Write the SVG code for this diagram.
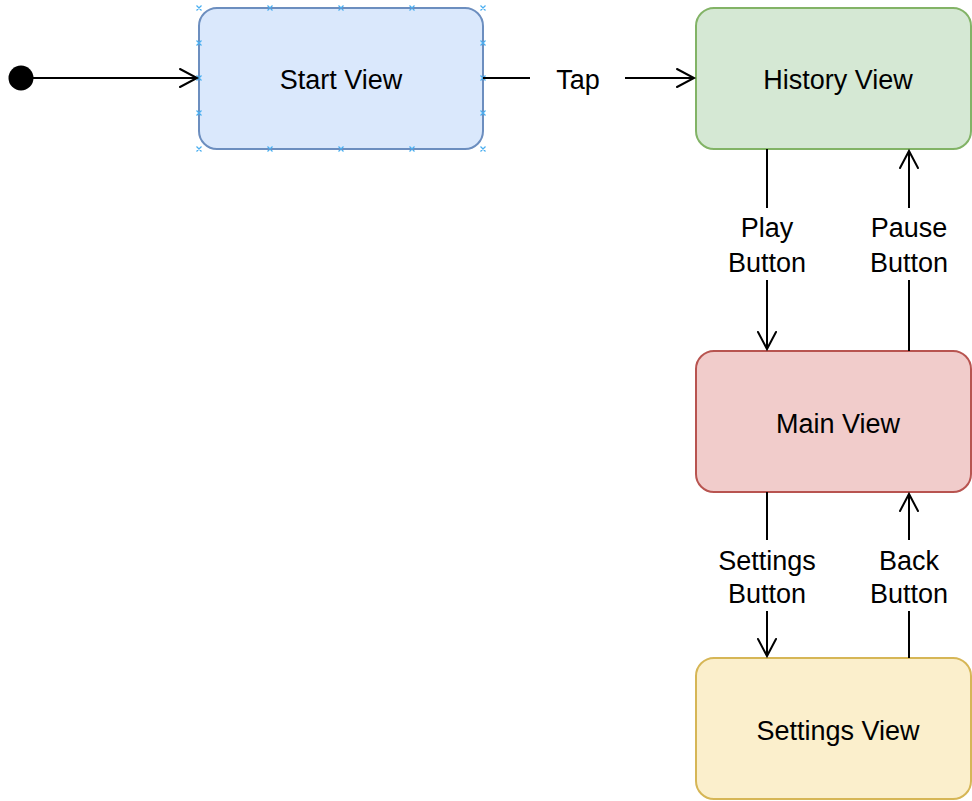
<svg xmlns="http://www.w3.org/2000/svg" width="972" height="801" viewBox="0 0 972 801">
<style>
.node{stroke-width:2}
.lbl{font-family:"Liberation Sans",Arial,sans-serif;font-size:27px;fill:#000;text-anchor:middle}
.edge{fill:none;stroke:#000;stroke-width:2}
.hd{fill:none;stroke:#000;stroke-width:2;stroke-linecap:round}
.mk{fill:none;stroke:#4aaef0;stroke-width:1.2}
</style>
<rect width="972" height="801" fill="#fff"/>
<g id="initial">
<circle cx="21" cy="78" r="12.5" fill="#000"/>
</g>
<g id="start-view">
<rect class="node" x="199" y="8" width="284" height="141" rx="18" fill="#dae8fc" stroke="#6c8ebf"/>
<text class="lbl" x="341" y="89">Start View</text>
<g class="mk">
<path d="M196.5,5.5l5,5M201.5,5.5l-5,5M267.5,5.5l5,5M272.5,5.5l-5,5M338.5,5.5l5,5M343.5,5.5l-5,5M409.5,5.5l5,5M414.5,5.5l-5,5M480.5,5.5l5,5M485.5,5.5l-5,5"/>
<path d="M196.5,146.5l5,5M201.5,146.5l-5,5M267.5,146.5l5,5M272.5,146.5l-5,5M338.5,146.5l5,5M343.5,146.5l-5,5M409.5,146.5l5,5M414.5,146.5l-5,5M480.5,146.5l5,5M485.5,146.5l-5,5"/>
<path d="M196.5,40.5l5,5M201.5,40.5l-5,5M196.5,75.5l5,5M201.5,75.5l-5,5M196.5,110.5l5,5M201.5,110.5l-5,5"/>
<path d="M480.5,40.5l5,5M485.5,40.5l-5,5M480.5,75.5l5,5M485.5,75.5l-5,5M480.5,110.5l5,5M485.5,110.5l-5,5"/>
</g>
</g>
<g id="history-view">
<rect class="node" x="696" y="8" width="275" height="141" rx="18" fill="#d5e8d4" stroke="#82b366"/>
<text class="lbl" x="838" y="89">History View</text>
</g>
<g id="main-view">
<rect class="node" x="696" y="351" width="275" height="141" rx="18" fill="#f1cccb" stroke="#b85450"/>
<text class="lbl" x="838" y="433">Main View</text>
</g>
<g id="settings-view">
<rect class="node" x="696" y="658" width="275" height="141" rx="18" fill="#fbefcc" stroke="#d6b656"/>
<text class="lbl" x="838" y="740">Settings View</text>
</g>
<g id="connectors">
<path class="edge" d="M33,78H197"/>
<path class="hd" d="M180,69L197,78L180,87"/>
<path class="edge" d="M483,78H530M625,78H694"/>
<path class="hd" d="M677,69L694,78L677,87"/>
<text class="lbl" x="578" y="89">Tap</text>
<path class="edge" d="M767,149V208M767,280V349"/>
<path class="hd" d="M758,332L767,349L776,332"/>
<text class="lbl" x="767" y="237">Play</text>
<text class="lbl" x="767" y="272">Button</text>
<path class="edge" d="M909,351V280M909,208V151"/>
<path class="hd" d="M900,168L909,151L918,168"/>
<text class="lbl" x="909" y="237">Pause</text>
<text class="lbl" x="909" y="272">Button</text>
<path class="edge" d="M767,492V540M767,611V656"/>
<path class="hd" d="M758,639L767,656L776,639"/>
<text class="lbl" x="767" y="570">Settings</text>
<text class="lbl" x="767" y="603">Button</text>
<path class="edge" d="M909,658V611M909,540V494"/>
<path class="hd" d="M900,511L909,494L918,511"/>
<text class="lbl" x="909" y="570">Back</text>
<text class="lbl" x="909" y="603">Button</text>
</g>
</svg>
